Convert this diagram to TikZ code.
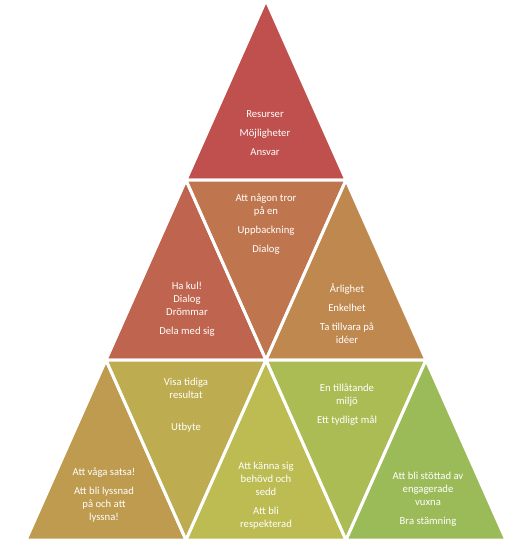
\documentclass[tikz,border=0pt]{standalone}
\usepackage{fontspec}
\setmainfont{Carlito}
\definecolor{tri0}{RGB}{192,80,77}
\definecolor{tri1}{RGB}{191,100,78}
\definecolor{tri2}{RGB}{191,118,78}
\definecolor{tri3}{RGB}{191,136,78}
\definecolor{tri4}{RGB}{190,155,79}
\definecolor{tri5}{RGB}{190,173,80}
\definecolor{tri6}{RGB}{188,188,82}
\definecolor{tri7}{RGB}{172,188,85}
\definecolor{tri8}{RGB}{155,187,89}

\begin{document}
\begin{tikzpicture}[
  x=0.75pt,y=-0.75pt,
  every node/.style={font=\fontsize{8}{9.75}\selectfont,text=white,align=center},
  tri/.style={draw=white,line width=2.25pt}
]
  \useasboundingbox (0,0) rectangle (516,560);
  % grid corners, row r, corner j
  \foreach \r in {0,...,3}
    \foreach \j in {0,...,\r}
      \coordinate (p\r\j) at ({266+80*(2*\j-\r)},{180*\r});

  \filldraw[tri,fill=tri0] (p00) -- (p10) -- (p11) -- cycle;
  \filldraw[tri,fill=tri1] (p10) -- (p20) -- (p21) -- cycle;
  \filldraw[tri,fill=tri2] (p10) -- (p11) -- (p21) -- cycle;
  \filldraw[tri,fill=tri3] (p11) -- (p21) -- (p22) -- cycle;
  \filldraw[tri,fill=tri4] (p20) -- (p30) -- (p31) -- cycle;
  \filldraw[tri,fill=tri5] (p20) -- (p21) -- (p31) -- cycle;
  \filldraw[tri,fill=tri6] (p21) -- (p31) -- (p32) -- cycle;
  \filldraw[tri,fill=tri7] (p21) -- (p22) -- (p32) -- cycle;
  \begin{scope}[shift={(2,3)}]
    \filldraw[tri,fill=tri8] (p22) -- (p32) -- (p33) -- cycle;
  \end{scope}

  \node (top) at (265,133) {Resurser\\[4.5pt] Möjligheter\\[4.5pt] Ansvar};
  \node (fun) at (187,309) {Ha kul!\\ Dialog\\ Drömmar\\[4.5pt] Dela med sig};
  \node (trust) at (266,224) {Att någon tror\\ på en\\[4.5pt] Uppbackning\\[4.5pt] Dialog};
  \node (honest) at (347,314) {Årlighet\\[4.5pt] Enkelhet\\[4.5pt] Ta tillvara på\\ idéer};
  \node (dare) at (104,495) {Att våga satsa!\\[4.5pt] Att bli lyssnad\\ på och att\\ lyssna!};
  \node (result) at (186,405) {Visa tidiga\\ resultat\\[14pt] Utbyte};
  \node (needed) at (266,496) {Att känna sig\\ behövd och\\ sedd\\[4.5pt] Att bli\\ respekterad};
  \node (goal) at (347,405) {En tillåtande\\ miljö\\[4.5pt] Ett tydligt mål};
  \node (adults) at (428,499) {Att bli stöttad av\\ engagerade\\ vuxna\\[4.5pt] Bra stämning};
\end{tikzpicture}
\end{document}
